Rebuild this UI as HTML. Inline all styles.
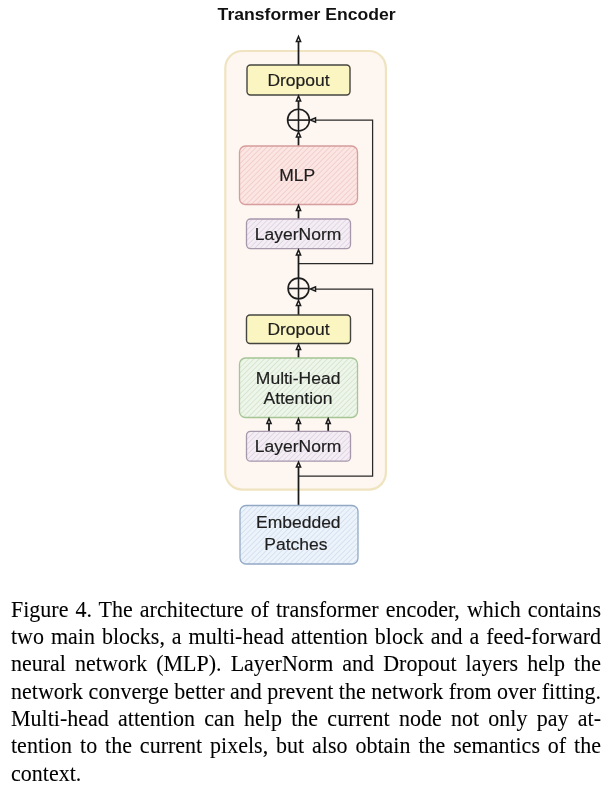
<!DOCTYPE html>
<html><head><meta charset="utf-8">
<style>
html,body{margin:0;padding:0;background:#fff;width:613px;height:792px;overflow:hidden;}
#dg{position:absolute;left:0;top:0;will-change:transform;}
.cap{position:absolute;left:10.6px;top:0;will-change:transform;width:591px;height:792px;font-family:"Liberation Serif",serif;font-size:22px;color:#000;-webkit-text-stroke:0.08px #000;}
.cap div{position:absolute;left:0;width:590px;text-align:justify;text-align-last:justify;white-space:nowrap;height:27px;line-height:27px;transform:scaleY(1.015);transform-origin:0 21.3px;}
.cap div.last{text-align:left;text-align-last:left;}
</style></head><body>
<svg id="dg" width="613" height="590" viewBox="0 0 613 590">
<defs>
<pattern id="hefc8c5" width="3.7" height="3.7" patternUnits="userSpaceOnUse" patternTransform="rotate(45)"><line x1="0" y1="0" x2="0" y2="3.7" stroke="#efc8c5" stroke-width="1.5"/></pattern>
<pattern id="hdbcfe1" width="3.7" height="3.7" patternUnits="userSpaceOnUse" patternTransform="rotate(45)"><line x1="0" y1="0" x2="0" y2="3.7" stroke="#dbcfe1" stroke-width="1.5"/></pattern>
<pattern id="hd0e2c8" width="3.7" height="3.7" patternUnits="userSpaceOnUse" patternTransform="rotate(45)"><line x1="0" y1="0" x2="0" y2="3.7" stroke="#d0e2c8" stroke-width="1.5"/></pattern>
<pattern id="hcfdcee" width="3.7" height="3.7" patternUnits="userSpaceOnUse" patternTransform="rotate(45)"><line x1="0" y1="0" x2="0" y2="3.7" stroke="#cfdcee" stroke-width="1.5"/></pattern>
</defs>
<text transform="translate(306.6,20) scale(1,0.94)" text-anchor="middle" font-family="Liberation Sans" font-weight="bold" font-size="17.6" fill="#111">Transformer Encoder</text>
<rect x="225.3" y="51" width="160.6" height="438.6" rx="17" fill="#fdf6f1" stroke="#f0e4c0" stroke-width="2.2"/>
<g fill="none" stroke="#2a2a2a" stroke-width="1.25">
<polyline points="298.5,263.5 372.6,263.5 372.6,120 312,120"/>
<polyline points="298.5,476 372.6,476 372.6,289 312,289"/>
</g>
<g fill="none" stroke="#1a1a1a" stroke-width="1.75">
<line x1="298.5" y1="65" x2="298.5" y2="40"/>
<line x1="298.5" y1="109" x2="298.5" y2="100"/>
<line x1="298.5" y1="146" x2="298.5" y2="136"/>
<line x1="298.5" y1="219" x2="298.5" y2="210"/>
<line x1="298.5" y1="278" x2="298.5" y2="254"/>
<line x1="298.5" y1="315" x2="298.5" y2="305"/>
<line x1="298.5" y1="358" x2="298.5" y2="349"/>
<line x1="269.0" y1="431" x2="269.0" y2="423"/>
<line x1="298.5" y1="431" x2="298.5" y2="423"/>
<line x1="328.2" y1="431" x2="328.2" y2="423"/>
<line x1="298.5" y1="505.5" x2="298.5" y2="467"/>
</g>
<rect x="247" y="65" width="103" height="30" rx="3.5" fill="#fbf5c2"/>
<rect x="247" y="65" width="103" height="30" rx="3.5" fill="none" stroke="#45453f" stroke-width="1.4"/>
<rect x="239.5" y="146" width="118" height="58.5" rx="6" fill="#fbe6e3"/>
<rect x="239.5" y="146" width="118" height="58.5" rx="6" fill="url(#hefc8c5)"/>
<rect x="239.5" y="146" width="118" height="58.5" rx="6" fill="none" stroke="#d59d9b" stroke-width="1.3"/>
<rect x="246.5" y="219" width="104" height="29.6" rx="4" fill="#f4eef4"/>
<rect x="246.5" y="219" width="104" height="29.6" rx="4" fill="url(#hdbcfe1)"/>
<rect x="246.5" y="219" width="104" height="29.6" rx="4" fill="none" stroke="#a697ab" stroke-width="1.3"/>
<rect x="246.5" y="315" width="104" height="28.5" rx="3.5" fill="#fbf5c2"/>
<rect x="246.5" y="315" width="104" height="28.5" rx="3.5" fill="none" stroke="#45453f" stroke-width="1.4"/>
<rect x="239.5" y="358" width="118" height="59.5" rx="6" fill="#eef5ea"/>
<rect x="239.5" y="358" width="118" height="59.5" rx="6" fill="url(#hd0e2c8)"/>
<rect x="239.5" y="358" width="118" height="59.5" rx="6" fill="none" stroke="#a5c595" stroke-width="1.3"/>
<rect x="246.5" y="431.4" width="104" height="29.8" rx="4" fill="#f4eef4"/>
<rect x="246.5" y="431.4" width="104" height="29.8" rx="4" fill="url(#hdbcfe1)"/>
<rect x="246.5" y="431.4" width="104" height="29.8" rx="4" fill="none" stroke="#a697ab" stroke-width="1.3"/>
<rect x="240" y="505.5" width="118" height="58.5" rx="6" fill="#edf3fa"/>
<rect x="240" y="505.5" width="118" height="58.5" rx="6" fill="url(#hcfdcee)"/>
<rect x="240" y="505.5" width="118" height="58.5" rx="6" fill="none" stroke="#92a9c6" stroke-width="1.3"/>
<g fill="none" stroke="#1e1e1e" stroke-width="1.6"><circle cx="298.5" cy="120.1" r="10.9"/><line x1="287.6" y1="120.1" x2="309.4" y2="120.1"/><line x1="298.5" y1="109.19999999999999" x2="298.5" y2="131.0"/></g>
<g fill="none" stroke="#1e1e1e" stroke-width="1.6"><circle cx="298.5" cy="288.5" r="10.4"/><line x1="288.1" y1="288.5" x2="308.9" y2="288.5"/><line x1="298.5" y1="278.1" x2="298.5" y2="298.9"/></g>
<path d="M298.5,36.5 L296.4,41.4 L300.6,41.4 Z" fill="#fef9f4" stroke="#1a1a1a" stroke-width="1.5" stroke-linejoin="miter"/>
<path d="M298.5,96 L296.4,100.9 L300.6,100.9 Z" fill="#fef9f4" stroke="#1a1a1a" stroke-width="1.5" stroke-linejoin="miter"/>
<path d="M298.5,132 L296.4,136.9 L300.6,136.9 Z" fill="#fef9f4" stroke="#1a1a1a" stroke-width="1.5" stroke-linejoin="miter"/>
<path d="M298.5,205.5 L296.4,210.4 L300.6,210.4 Z" fill="#fef9f4" stroke="#1a1a1a" stroke-width="1.5" stroke-linejoin="miter"/>
<path d="M298.5,250 L296.4,254.9 L300.6,254.9 Z" fill="#fef9f4" stroke="#1a1a1a" stroke-width="1.5" stroke-linejoin="miter"/>
<path d="M298.5,300.5 L296.4,305.4 L300.6,305.4 Z" fill="#fef9f4" stroke="#1a1a1a" stroke-width="1.5" stroke-linejoin="miter"/>
<path d="M298.5,344.5 L296.4,349.4 L300.6,349.4 Z" fill="#fef9f4" stroke="#1a1a1a" stroke-width="1.5" stroke-linejoin="miter"/>
<path d="M269.0,418.6 L266.9,423.5 L271.1,423.5 Z" fill="#fef9f4" stroke="#1a1a1a" stroke-width="1.5" stroke-linejoin="miter"/>
<path d="M298.5,418.6 L296.4,423.5 L300.6,423.5 Z" fill="#fef9f4" stroke="#1a1a1a" stroke-width="1.5" stroke-linejoin="miter"/>
<path d="M328.2,418.6 L326.09999999999997,423.5 L330.3,423.5 Z" fill="#fef9f4" stroke="#1a1a1a" stroke-width="1.5" stroke-linejoin="miter"/>
<path d="M298.5,462.2 L296.4,467.09999999999997 L300.6,467.09999999999997 Z" fill="#fef9f4" stroke="#1a1a1a" stroke-width="1.5" stroke-linejoin="miter"/>
<path d="M310.5,120 L315.5,117.8 L315.5,122.2 Z" fill="#fef9f4" stroke="#1a1a1a" stroke-width="1.5" stroke-linejoin="miter"/>
<path d="M310.5,289 L315.5,286.8 L315.5,291.2 Z" fill="#fef9f4" stroke="#1a1a1a" stroke-width="1.5" stroke-linejoin="miter"/>
<g font-family="Liberation Sans" font-size="17.5" fill="#1e1e1e" stroke="#1e1e1e" stroke-width="0.2" text-anchor="middle">
<text transform="translate(298.5,85.6) scale(1,0.94)">Dropout</text>
<text transform="translate(297.2,180.9) scale(1,0.94)">MLP</text>
<text transform="translate(298.1,239.9) scale(1,0.94)">LayerNorm</text>
<text transform="translate(298.5,334.6) scale(1,0.94)">Dropout</text>
<text transform="translate(298.1,383.5) scale(1,0.94)">Multi-Head</text>
<text transform="translate(298.0,403.6) scale(1,0.94)">Attention</text>
<text transform="translate(298.1,451.9) scale(1,0.94)">LayerNorm</text>
<text transform="translate(298.3,527.6) scale(1,0.94)">Embedded</text>
<text transform="translate(295.9,549.6) scale(1,0.94)">Patches</text>
</g>
</svg>
<div class="cap">
<div style="top:595.6px">Figure 4. The architecture of transformer encoder, which contains</div>
<div style="top:623.0px">two main blocks, a multi-head attention block and a feed-forward</div>
<div style="top:650.3px">neural network (MLP). LayerNorm and Dropout layers help the</div>
<div style="top:677.7px">network converge better and prevent the network from over fitting.</div>
<div style="top:705.0px">Multi-head attention can help the current node not only pay at-</div>
<div style="top:732.4px">tention to the current pixels, but also obtain the semantics of the</div>
<div class="last" style="top:759.7px">context.</div>
</div>
</body></html>
